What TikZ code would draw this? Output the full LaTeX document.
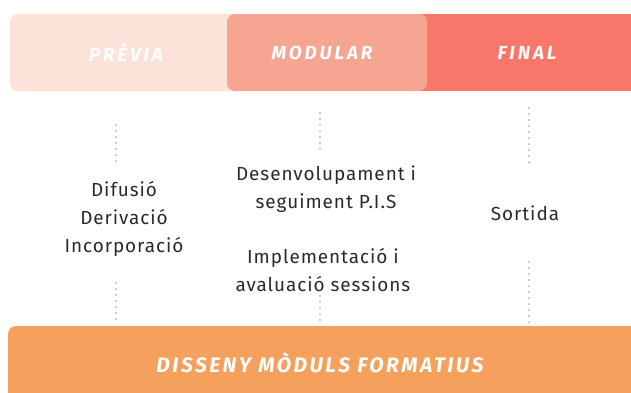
\documentclass[tikz,border=0pt]{standalone}
\usepackage{fontspec}
\setmainfont{Fira Sans}
\newfontfamily\bodyfont[LetterSpace=5]{Fira Sans}
\newfontfamily\headfont[LetterSpace=15]{Fira Sans}
\newfontfamily\botfont[LetterSpace=12]{Fira Sans}
\definecolor{cprev}{HTML}{FCE3DA}
\definecolor{cmod}{HTML}{F6A593}
\definecolor{cfin}{HTML}{F8766A}
\definecolor{cbot}{HTML}{F5A15D}
\definecolor{ctext}{HTML}{2A2A2A}
\definecolor{cdot}{HTML}{A0A0A0}
\begin{document}
\begin{tikzpicture}[x=1bp,y=-1bp,
  headtxt/.style={text=white,font=\headfont\fontsize{19}{22}\selectfont\bfseries\itshape,anchor=center},
  bottxt/.style={text=white,font=\botfont\fontsize{21}{24}\selectfont\bfseries\itshape,anchor=center},
  bodytxt/.style={text=ctext,font=\bodyfont\fontsize{19}{28}\selectfont,align=center,anchor=center},
  dotline/.style={cdot,line width=1.6bp,dash pattern=on 0.01bp off 6bp,line cap=round}]
\useasboundingbox (0,0) rectangle (631,392);
\clip (0,0) rectangle (631,392);
% top bars
\fill[cfin] (400,14) rectangle (640,91);
\fill[cprev,rounded corners=8bp] (10,14) rectangle (245,91);
\fill[cmod,rounded corners=8bp] (227,14) rectangle (427,91);
% bottom bar
\fill[cbot,rounded corners=8bp] (8,326) rectangle (660,420);
% header labels
\node[headtxt] (prev) at (126,53) {PRÈVIA};
\node[headtxt] (mod) at (322,53) {MODULAR};
\node[headtxt] (fin) at (527,53) {FINAL};
\node[bottxt] (bot) at (320,363) {DISSENY MÒDULS FORMATIUS};
% body texts
\node[bodytxt] (colA) at (124,219) {Difusió\\Derivació\\Incorporació};
\node[bodytxt] (colB1) at (326,189) {Desenvolupament i\\seguiment P.I.S};
\node[bodytxt] (colB2) at (323,270) {Implementació i\\avaluació sessions};
\node[bodytxt] (colC) at (525,213) {Sortida};
% dotted connectors
\coordinate (a1) at (116,125);
\coordinate (a2) at (116,163);
\coordinate (a3) at (116,283);
\coordinate (a4) at (116,324);
\coordinate (b1) at (320,113);
\coordinate (b2) at (320,152);
\coordinate (b3) at (320,296);
\coordinate (b4) at (320,326);
\coordinate (c1) at (529,108);
\coordinate (c2) at (529,165);
\coordinate (c3) at (529,262);
\coordinate (c4) at (529,326);
\draw[dotline] (a1) -- (a2);
\draw[dotline] (a3) -- (a4);
\draw[dotline] (b1) -- (b2);
\draw[dotline] (b3) -- (b4);
\draw[dotline] (c1) -- (c2);
\draw[dotline] (c3) -- (c4);
\end{tikzpicture}
\end{document}
